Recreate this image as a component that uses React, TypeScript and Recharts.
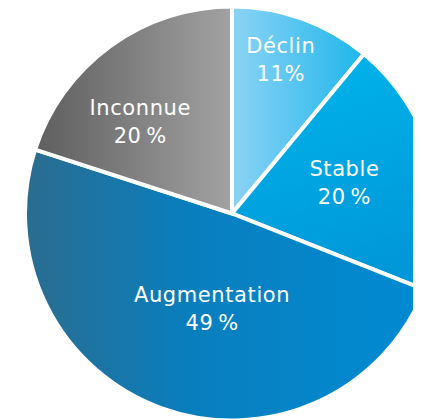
import React from "react";
import { PieChart, Pie, Cell } from "recharts";

const categories = ["Déclin", "Stable", "Augmentation", "Inconnue"];
const values = [11, 20, 49, 20];
const percentLabels = ["11%", "20\u2009%", "49\u2009%", "20\u2009%"];

const data = categories.map((name, i) => ({ name, value: values[i], pct: percentLabels[i] }));

const gradients = [
  { id: "gDeclin", x2: "1", y2: "0", stops: [["0%", "#8cd3f5"], ["100%", "#1fb6eb"]] },
  { id: "gStable", x2: "0.25", y2: "1", stops: [["0%", "#00b6ed"], ["100%", "#0098d8"]] },
  { id: "gAug", x2: "1", y2: "0", stops: [["0%", "#2b6c8f"], ["40%", "#0a7ebd"], ["100%", "#008bd3"]] },
  { id: "gInc", x2: "1", y2: "0", stops: [["0%", "#5e5e5e"], ["100%", "#a2a2a2"]] },
];

// label placement (layout only): fraction of outer radius and angular shift in degrees
const labelRadius = [0.784, 0.564, 0.466, 0.63];
const labelAngleShift = [-2.3, -1.2, -7.9, -8.7];

const RAD = Math.PI / 180;

const renderLabel = (props: any) => {
  const { cx, cy, midAngle, outerRadius, index, payload } = props;
  const r = outerRadius * labelRadius[index];
  const a = (midAngle - labelAngleShift[index]) * RAD;
  const x = cx + r * Math.cos(a);
  const y = cy - r * Math.sin(a);
  const style = {
    fill: "#ffffff",
    fontFamily: "'DejaVu Sans', sans-serif",
    fontSize: 21,
    fontWeight: 400,
    letterSpacing: 0.6,
  } as React.CSSProperties;
  return (
    <g key={`lbl-${index}`}>
      <text x={x} y={y - 6} textAnchor="middle" style={style}>
        {payload.name}
      </text>
      <text x={x} y={y + 22} textAnchor="middle" style={style}>
        {payload.pct}
      </text>
    </g>
  );
};

export default function App() {
  return (
    <div style={{ width: 421, height: 420 }}>
      <PieChart width={421} height={420} margin={{ top: 0, right: 0, bottom: 0, left: 0 }}>
        <defs>
          {gradients.map((g) => (
            <linearGradient key={g.id} id={g.id} x1="0" y1="0" x2={g.x2} y2={g.y2}>
              {g.stops.map(([o, c]) => (
                <stop key={o} offset={o} stopColor={c} />
              ))}
            </linearGradient>
          ))}
        </defs>
        <Pie
          data={data}
          dataKey="value"
          nameKey="name"
          cx={224}
          cy={205.5}
          outerRadius={207}
          startAngle={90}
          endAngle={-270}
          stroke="#ffffff"
          strokeWidth={4}
          labelLine={false}
          label={renderLabel}
          isAnimationActive={false}
        >
          {data.map((d, i) => (
            <Cell key={d.name} fill={`url(#${gradients[i].id})`} />
          ))}
        </Pie>
      </PieChart>
    </div>
  );
}
